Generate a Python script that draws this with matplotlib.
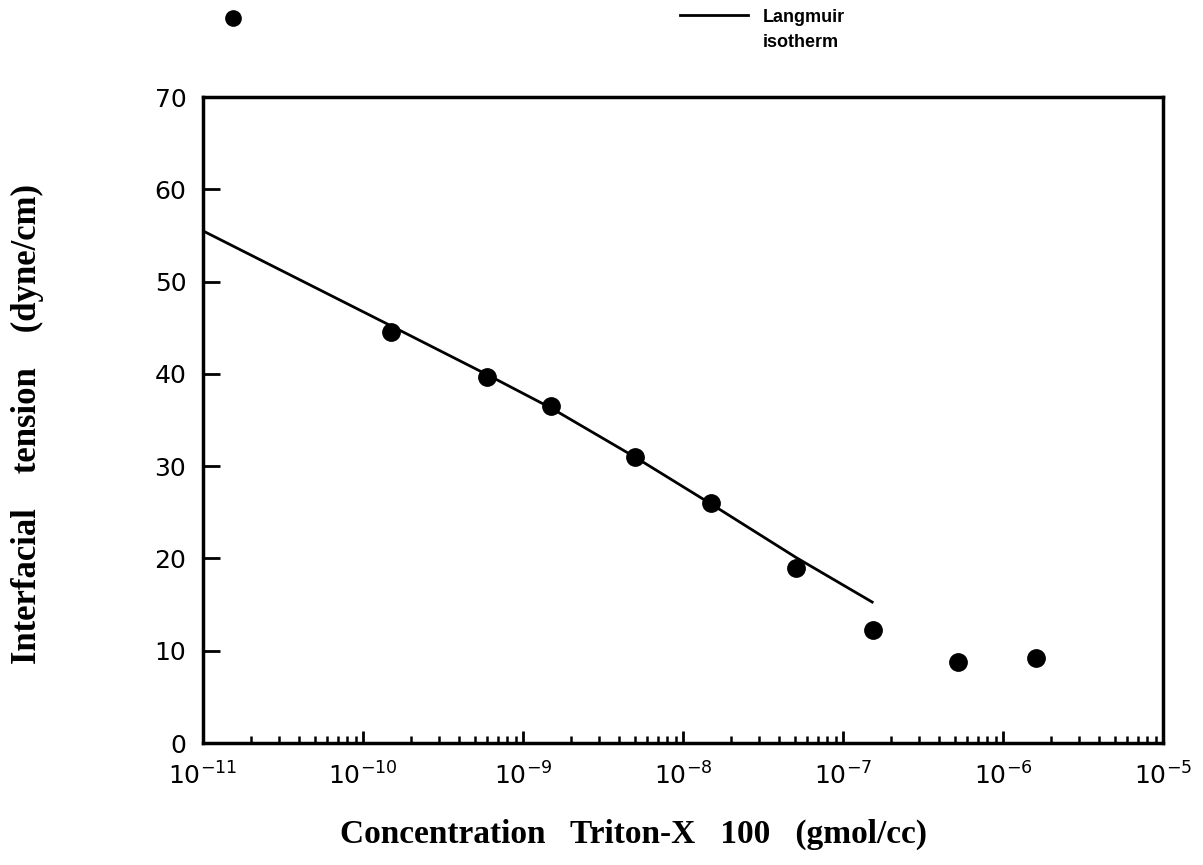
import matplotlib
matplotlib.use("Agg")
import matplotlib.pyplot as plt
from matplotlib.ticker import FixedLocator, LogLocator, NullFormatter
from matplotlib.lines import Line2D

# measured interfacial tension vs surfactant concentration
conc = [1.5e-10, 6.0e-10, 1.5e-9, 5.0e-9, 1.5e-8, 5.1e-8, 1.55e-7, 5.2e-7, 1.6e-6]
tension = [44.5, 39.7, 36.5, 31.0, 26.0, 19.0, 12.3, 8.8, 9.2]

# Langmuir isotherm fit
fit_conc = [1e-11, 1.5e-10, 6.0e-10, 1.5e-9, 5.0e-9, 1.5e-8, 5.1e-8, 1.55e-7]
fit_tension = [55.5, 45.2, 39.9, 36.3, 31.0, 25.9, 20.1, 15.2]

xticks = [1e-11, 1e-10, 1e-9, 1e-8, 1e-7, 1e-6, 1e-5]
xticklabels = [r'$10^{-11}$', r'$10^{-10}$', r'$10^{-9}$', r'$10^{-8}$',
               r'$10^{-7}$', r'$10^{-6}$', r'$10^{-5}$']
yticks = [0, 10, 20, 30, 40, 50, 60, 70]

plt.rcParams['mathtext.fontset'] = 'dejavusans'

fig = plt.figure(figsize=(12.03, 8.65), dpi=100)
ax = fig.add_axes([0.1687, 0.141, 0.798, 0.7468])

ax.plot(fit_conc, fit_tension, color='k', linewidth=2.0, solid_capstyle='butt')
ax.plot(conc, tension, 'o', color='k', markersize=12.5, linestyle='none')

ax.set_xscale('log')
ax.set_xlim(1e-11, 1e-5)
ax.set_ylim(0, 70)

ax.xaxis.set_major_locator(FixedLocator(xticks))
ax.set_xticklabels(xticklabels)
ax.xaxis.set_minor_locator(LogLocator(base=10, subs=range(2, 10), numticks=20))
ax.xaxis.set_minor_formatter(NullFormatter())
ax.set_yticks(yticks)

for s in ax.spines.values():
    s.set_linewidth(2.5)

ax.tick_params(axis='x', which='major', direction='in', length=9, width=2,
               labelsize=18, pad=14)
ax.tick_params(axis='x', which='minor', direction='in', length=5, width=1.8)
ax.tick_params(axis='y', which='major', direction='in', length=12, width=2,
               labelsize=18, pad=12)

fig.text(0.527, 0.035, 'Concentration   Triton-X   100   (gmol/cc)',
         family='Liberation Serif', weight='bold', fontsize=24,
         ha='center', va='center')
fig.text(0.023, 0.51, 'Interfacial    tension    (dyne/cm)',
         family='Liberation Serif', weight='bold', fontsize=25,
         rotation=90, ha='center', va='center')

# legend laid out above the plot box
fig.add_artist(Line2D([0.194], [0.979], marker='o', color='k', markersize=11,
                      linestyle='none', transform=fig.transFigure))
fig.add_artist(Line2D([0.565, 0.622], [0.983, 0.983], color='k', linewidth=2,
                      transform=fig.transFigure))
fig.text(0.634, 0.980, 'Langmuir', family='Liberation Sans', weight='bold',
         fontsize=13, ha='left', va='center')
fig.text(0.634, 0.951, 'isotherm', family='Liberation Sans', weight='bold',
         fontsize=13, ha='left', va='center')

fig.savefig('out.png', dpi=100)
